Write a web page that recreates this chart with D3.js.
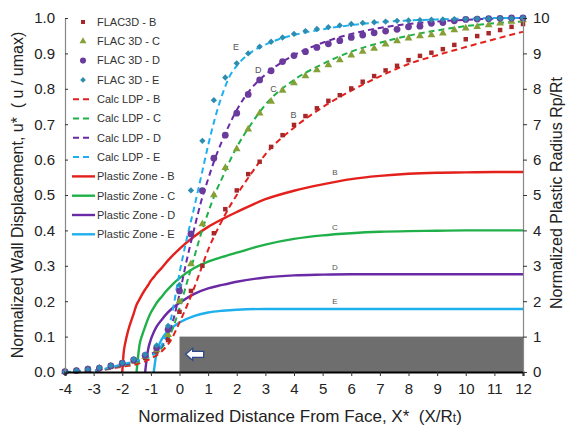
<!DOCTYPE html>
<html>
<head>
<meta charset="utf-8">
<script src="https://cdn.jsdelivr.net/npm/d3@7"></script>
<style>
  body { margin: 0; background: #fff; }
  svg { display: block; font-family: "Liberation Sans", Arial, sans-serif; }
</style>
</head>
<body>
<div id="chart"></div>
<script>
// FLAC3D points, sampled every 0.4 along the tunnel
const flacX = [-4, -3.6, -3.2, -2.8, -2.4, -2, -1.6, -1.2, -0.8, -0.4, 0, 0.4, 0.8, 1.2, 1.6, 2, 2.4, 2.8, 3.2, 3.6,
  4, 4.4, 4.8, 5.2, 5.6, 6, 6.4, 6.8, 7.2, 7.6, 8, 8.4, 8.8, 9.2, 9.6, 10, 10.4, 10.8, 11.2, 11.6, 12];
const flacB = [0.001, 0.003, 0.006, 0.010, 0.015, 0.022, 0.030, 0.040, 0.058, 0.090, 0.170, 0.229, 0.300, 0.392, 0.460, 0.513, 0.559, 0.594, 0.636, 0.669,
  0.698, 0.723, 0.745, 0.766, 0.782, 0.801, 0.820, 0.836, 0.852, 0.865, 0.881, 0.893, 0.902, 0.912, 0.924, 0.940, 0.949, 0.957, 0.966, 0.975, 0.983];
const flacC = [0.001, 0.003, 0.007, 0.011, 0.016, 0.024, 0.032, 0.043, 0.062, 0.105, 0.200, 0.305, 0.418, 0.500, 0.577, 0.630, 0.686, 0.731, 0.764, 0.795,
  0.816, 0.836, 0.853, 0.867, 0.881, 0.895, 0.905, 0.914, 0.926, 0.935, 0.943, 0.949, 0.952, 0.957, 0.966, 0.971, 0.975, 0.980, 0.985, 0.990, 0.994];
const flacD = [0.001, 0.004, 0.008, 0.011, 0.017, 0.025, 0.034, 0.047, 0.068, 0.120, 0.229, 0.390, 0.512, 0.604, 0.669, 0.731, 0.784, 0.825, 0.851, 0.877,
  0.894, 0.905, 0.917, 0.927, 0.936, 0.945, 0.952, 0.958, 0.963, 0.968, 0.975, 0.977, 0.985, 0.987, 0.992, 0.996, 0.997, 0.998, 0.999, 1.000, 1.000];
const flacE = [0.001, 0.004, 0.008, 0.012, 0.018, 0.026, 0.036, 0.050, 0.075, 0.130, 0.246, 0.513, 0.653, 0.768, 0.832, 0.872, 0.900, 0.919, 0.933, 0.945,
  0.955, 0.963, 0.969, 0.974, 0.979, 0.983, 0.986, 0.988, 0.990, 0.992, 0.993, 0.994, 0.995, 0.996, 0.997, 0.997, 0.998, 0.998, 0.999, 0.999, 1.000];

// Calculated LDP curves
const ldpX = [-4, -3, -2, -1.5, -1, -0.6, -0.3, 0, 0.25, 0.5, 0.75, 1, 1.25, 1.5, 1.75, 2, 2.5, 3, 4, 5, 6, 7, 8, 9, 10, 11, 12];
const ldpB = [0, 0.003, 0.015, 0.022, 0.038, 0.060, 0.090, 0.140, 0.185, 0.235, 0.290, 0.345, 0.390, 0.430, 0.467, 0.500, 0.560, 0.615, 0.690, 0.748, 0.795, 0.835, 0.870, 0.895, 0.918, 0.940, 0.961];
const ldpC = [0, 0.003, 0.018, 0.027, 0.045, 0.070, 0.110, 0.180, 0.250, 0.320, 0.390, 0.450, 0.505, 0.550, 0.595, 0.635, 0.700, 0.755, 0.825, 0.870, 0.905, 0.930, 0.950, 0.965, 0.977, 0.985, 0.990];
const ldpD = [0, 0.003, 0.020, 0.030, 0.050, 0.075, 0.125, 0.220, 0.315, 0.400, 0.480, 0.545, 0.605, 0.655, 0.700, 0.740, 0.800, 0.840, 0.895, 0.930, 0.955, 0.972, 0.983, 0.990, 0.995, 0.998, 1.000];
const ldpE = [0, 0.004, 0.022, 0.032, 0.045, 0.080, 0.150, 0.280, 0.375, 0.460, 0.550, 0.640, 0.720, 0.785, 0.835, 0.865, 0.903, 0.925, 0.952, 0.968, 0.980, 0.988, 0.993, 0.996, 0.998, 1.000, 1.000];

// Plastic zone radius (right axis)
const pzX = [-2, -1.95, -1.9, -1.8, -1.6, -1.5, -1.4, -1.3, -1.2, -1.1, -1, -0.9, -0.8, -0.6, -0.5, -0.25, 0, 0.5, 1, 1.5, 2, 3, 4, 5, 6, 7, 8, 9, 10, 11, 12];
const pzB = [0, 0.55, 0.8, 1.15, 1.65, 1.9, 2.05, 2.2, 2.33, 2.45, 2.58, 2.68, 2.78, 2.96, 3.06, 3.28, 3.48, 3.82, 4.10, 4.32, 4.52, 4.88, 5.12, 5.30, 5.45, 5.54, 5.60, 5.63, 5.64, 5.65, 5.65];
const pzC = [null, null, null, null, null, 0, 0.75, 1.05, 1.28, 1.5, 1.68, 1.82, 1.95, 2.15, 2.25, 2.47, 2.65, 2.93, 3.12, 3.25, 3.37, 3.60, 3.76, 3.86, 3.92, 3.96, 3.98, 3.99, 4.00, 4.00, 4.00];
const pzD = [null, null, null, null, null, null, null, null, 0, 0.62, 0.92, 1.12, 1.28, 1.50, 1.60, 1.80, 1.95, 2.20, 2.36, 2.46, 2.55, 2.67, 2.73, 2.75, 2.76, 2.76, 2.76, 2.76, 2.76, 2.76, 2.76];
const pzE = [null, null, null, null, null, null, null, null, null, null, null, 0, 0.55, 0.95, 1.07, 1.26, 1.40, 1.58, 1.68, 1.73, 1.76, 1.78, 1.78, 1.78, 1.78, 1.78, 1.78, 1.78, 1.78, 1.78, 1.78];

const cases = ["B", "C", "D", "E"];
const lineColor = { B: "#e3201c", C: "#20b04a", D: "#6a2aa6", E: "#1eb0ee" };
const markColor = { B: "#a8282a", C: "#86a038", D: "#6a3b9c", E: "#2d8db0" };
const markType = { B: d3.symbolSquare, C: d3.symbolTriangle, D: d3.symbolCircle, E: d3.symbolSquare };
const markRot = { B: 0, C: 0, D: 0, E: 45 };
const markSize = { B: 20, C: 26, D: 36, E: 20 };
const flac = { B: flacB, C: flacC, D: flacD, E: flacE };
const ldp = { B: ldpB, C: ldpC, D: ldpD, E: ldpE };
const pz = { B: pzB, C: pzC, D: pzD, E: pzE };

const xTicks = [-4, -3, -2, -1, 0, 1, 2, 3, 4, 5, 6, 7, 8, 9, 10, 11, 12];
const yTicks = [0, 0.1, 0.2, 0.3, 0.4, 0.5, 0.6, 0.7, 0.8, 0.9, 1.0];
const rTicks = [0, 1, 2, 3, 4, 5, 6, 7, 8, 9, 10];

// curve tag positions [x, value]
const ldpTags = { B: [3.98, 0.726], C: [3.28, 0.799], D: [2.75, 0.853], E: [1.97, 0.918] };
const pzTags = { B: [5.43, 5.64], C: [5.43, 4.09], D: [5.43, 2.96], E: [5.43, 1.99] };

const width = 569, height = 429;
const margin = { top: 18, right: 46, bottom: 57, left: 65 };

const svg = d3.select("#chart").append("svg")
  .attr("width", width)
  .attr("height", height);

const x = d3.scaleLinear().domain([-4, 12]).range([margin.left, width - margin.right]);
const y = d3.scaleLinear().domain([0, 1]).range([height - margin.bottom, margin.top]);
const yr = d3.scaleLinear().domain([0, 10]).range([height - margin.bottom, margin.top]);

// tunnel lining (grey block) + arrow
svg.append("rect")
  .attr("x", x(0)).attr("y", yr(1))
  .attr("width", x(12) - x(0)).attr("height", yr(0) - yr(1))
  .attr("fill", "#6e6e6e");

const ax = x(0.53), ay = yr(0.5);
svg.append("path")
  .attr("d", `M${ax - 9},${ay} L${ax - 2},${ay - 6} L${ax - 2},${ay - 3} L${ax + 9},${ay - 3} L${ax + 9},${ay + 3} L${ax - 2},${ay + 3} L${ax - 2},${ay + 6} Z`)
  .attr("fill", "#fff")
  .attr("stroke", "#2c4a8a")
  .attr("stroke-width", 1.3);

// plastic zone lines
cases.forEach(c => {
  const pts = pzX.map((v, i) => [v, pz[c][i]]).filter(d => d[1] !== null);
  svg.append("path")
    .datum(pts)
    .attr("fill", "none")
    .attr("stroke", lineColor[c])
    .attr("stroke-width", 2.4)
    .attr("d", d3.line().x(d => x(d[0])).y(d => yr(d[1])).curve(d3.curveMonotoneX));
});

// calculated LDP (dashed)
cases.forEach(c => {
  const pts = ldpX.map((v, i) => [v, ldp[c][i]]);
  svg.append("path")
    .datum(pts)
    .attr("fill", "none")
    .attr("stroke", lineColor[c])
    .attr("stroke-width", 2)
    .attr("stroke-dasharray", "6,4")
    .attr("d", d3.line().x(d => x(d[0])).y(d => y(d[1])).curve(d3.curveMonotoneX));
});

// FLAC3D markers
cases.forEach(c => {
  svg.append("g")
    .selectAll("path")
    .data(flacX.map((v, i) => [v, flac[c][i]]))
    .join("path")
    .attr("transform", d => `translate(${x(d[0])},${y(d[1])}) rotate(${markRot[c]})`)
    .attr("d", d3.symbol().type(markType[c]).size(markSize[c]))
    .attr("fill", markColor[c]);
});

// curve tags
cases.forEach(c => {
  svg.append("text")
    .attr("x", x(ldpTags[c][0])).attr("y", y(ldpTags[c][1]))
    .attr("text-anchor", "middle").attr("dy", "0.35em")
    .style("font-size", "9px").style("fill", "#555")
    .text(c);
  svg.append("text")
    .attr("x", x(pzTags[c][0])).attr("y", yr(pzTags[c][1]))
    .attr("text-anchor", "middle").attr("dy", "0.35em")
    .style("font-size", "8px").style("fill", "#555")
    .text(c);
});

// axes
const xAxis = svg.append("g")
  .attr("transform", `translate(0,${y(0)})`)
  .call(d3.axisBottom(x).tickValues(xTicks).tickSize(4).tickPadding(7).tickFormat(d => String(d)));
const yAxis = svg.append("g")
  .attr("transform", `translate(${x(-4)},0)`)
  .call(d3.axisLeft(y).tickValues(yTicks).tickSize(-3).tickPadding(10).tickFormat(d3.format(".1f")));
const rAxis = svg.append("g")
  .attr("transform", `translate(${x(12)},0)`)
  .call(d3.axisRight(yr).tickValues(rTicks).tickSize(4).tickPadding(6).tickFormat(d => String(d)));

[xAxis, yAxis, rAxis].forEach(a => {
  a.select(".domain").attr("stroke", "#222").attr("stroke-width", 1.2);
  a.selectAll(".tick line").attr("stroke", "#333");
  a.selectAll("text").style("font-size", "15px").style("fill", "#222");
});
xAxis.select(".domain").attr("stroke", "#000").attr("stroke-width", 2);
yAxis.select(".domain").attr("stroke", "#888");
rAxis.select(".domain").attr("stroke", "#888");

// axis titles
svg.append("text")
  .attr("x", (x(-4) + x(12)) / 2 + 6).attr("y", 422)
  .attr("text-anchor", "middle")
  .style("font-size", "17px").style("fill", "#222")
  .html('Normalized Distance From Face, X*&#160;&#160;(X/R<tspan font-size="12px">t</tspan>)');

svg.append("text")
  .attr("transform", `translate(23,${(y(0) + y(1)) / 2}) rotate(-90)`)
  .attr("text-anchor", "middle")
  .style("font-size", "16px").style("fill", "#222")
  .html("Normalized Wall Displacement, u*&#160;&#160;( u / umax)");

svg.append("text")
  .attr("transform", `translate(562,${(y(0) + y(1)) / 2 - 2}) rotate(-90)`)
  .attr("text-anchor", "middle")
  .style("font-size", "16px").style("fill", "#222")
  .text("Normalized Plastic Radius Rp/Rt");

// legend
const legendItems = [
  ...cases.map(c => ({ kind: "mark", c, label: c === "B" ? "FLAC3D - B" : "FLAC 3D - " + c })),
  ...cases.map(c => ({ kind: "dash", c, label: "Calc LDP - " + c })),
  ...cases.map(c => ({ kind: "solid", c, label: "Plastic Zone - " + c }))
];
const legend = svg.append("g").attr("transform", "translate(72,22)");
const rows = legend.selectAll("g").data(legendItems).join("g")
  .attr("transform", (d, i) => `translate(0,${i * 19.3})`);
rows.each(function (d) {
  const g = d3.select(this);
  if (d.kind === "mark") {
    g.append("path")
      .attr("transform", `translate(11,0) rotate(${markRot[d.c]})`)
      .attr("d", d3.symbol().type(markType[d.c]).size(markSize[d.c] * 0.8))
      .attr("fill", markColor[d.c]);
  } else {
    g.append("line")
      .attr("x1", d.kind === "dash" ? 1 : 0).attr("x2", d.kind === "dash" ? 20 : 23)
      .attr("stroke", lineColor[d.c])
      .attr("stroke-width", d.kind === "dash" ? 2 : 2.4)
      .attr("stroke-dasharray", d.kind === "dash" ? "6,4" : null);
  }
  g.append("text")
    .attr("x", 25).attr("dy", "0.35em")
    .style("font-size", "11px").style("fill", "#333")
    .text(d.label);
});
</script>
</body>
</html>
